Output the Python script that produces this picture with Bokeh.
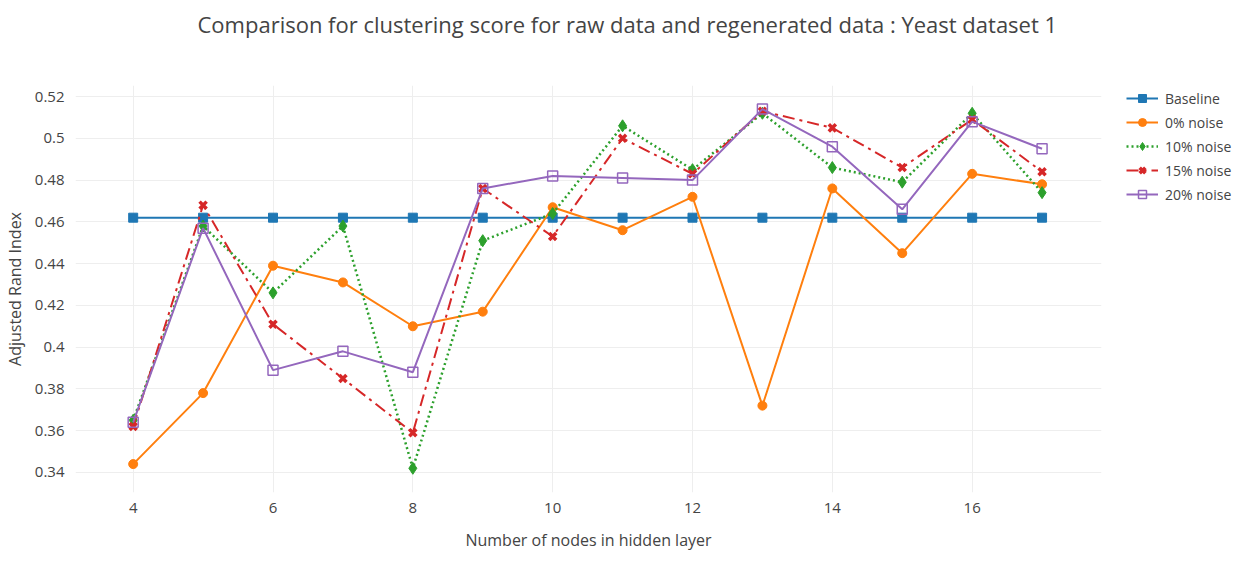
from bokeh.plotting import figure
from bokeh.models import Range1d, FixedTicker, Legend, LegendItem, Title
from bokeh.embed import file_html
from bokeh.resources import INLINE

x_nodes = [4, 5, 6, 7, 8, 9, 10, 11, 12, 13, 14, 15, 16, 17]
baseline = [0.462, 0.462, 0.462, 0.462, 0.462, 0.462, 0.462, 0.462, 0.462, 0.462, 0.462, 0.462, 0.462, 0.462]
noise0 = [0.344, 0.378, 0.439, 0.431, 0.410, 0.417, 0.467, 0.456, 0.472, 0.372, 0.476, 0.445, 0.483, 0.478]
noise10 = [0.365, 0.458, 0.426, 0.458, 0.342, 0.451, 0.464, 0.506, 0.485, 0.512, 0.486, 0.479, 0.512, 0.474]
noise15 = [0.362, 0.468, 0.411, 0.385, 0.359, 0.476, 0.453, 0.500, 0.483, 0.513, 0.505, 0.486, 0.509, 0.484]
noise20 = [0.364, 0.457, 0.389, 0.398, 0.388, 0.476, 0.482, 0.481, 0.480, 0.514, 0.496, 0.466, 0.508, 0.495]
series_names = ["Baseline", "0% noise", "10% noise", "15% noise", "20% noise"]
x_ticks = [4, 6, 8, 10, 12, 14, 16]
y_ticks = [0.34, 0.36, 0.38, 0.40, 0.42, 0.44, 0.46, 0.48, 0.50, 0.52]
y_tick_labels = ["0.34", "0.36", "0.38", "0.4", "0.42", "0.44", "0.46", "0.48", "0.5", "0.52"]

FONT = "Open Sans"
TXT = "#444444"

p = figure(frame_width=1026, frame_height=407, output_backend="svg", toolbar_location=None,
           x_range=Range1d(3.175, 17.85), y_range=Range1d(0.3304, 0.5253),
           min_border_left=67, min_border_top=85, min_border_right=120, min_border_bottom=53)
p.outline_line_color = None
p.background_fill_color = "white"

# spacer between the frame and the title (closest to the frame)
spacer = Title(text=" ", text_font_size="1px", standoff=44)
p.add_layout(spacer, "above")

title = Title(text="Comparison for clustering score for raw data and regenerated data : Yeast dataset 1",
              align="left", offset=122, text_font=FONT, text_font_size="22px",
              text_font_style="normal", text_color=TXT, standoff=0)
p.title = title

for ax in (p.xaxis[0], p.yaxis[0]):
    ax.axis_line_color = None
    ax.major_tick_line_color = None
    ax.minor_tick_line_color = None
    ax.major_label_text_font = FONT
    ax.major_label_text_font_size = "15px"
    ax.major_label_text_color = TXT
    ax.axis_label_text_font = FONT
    ax.axis_label_text_font_size = "16px"
    ax.axis_label_text_font_style = "normal"
    ax.axis_label_text_color = TXT

p.xaxis.ticker = FixedTicker(ticks=x_ticks)
p.yaxis.ticker = FixedTicker(ticks=y_ticks)
p.yaxis.major_label_overrides = {t: l for t, l in zip(y_ticks, y_tick_labels)}
p.xaxis.axis_label = "Number of nodes in hidden layer"
p.yaxis.axis_label = "Adjusted Rand Index"
p.xaxis.major_label_standoff = 4
p.xaxis.axis_label_standoff = 13
p.yaxis.major_label_standoff = 5
p.yaxis.axis_label_standoff = 6

p.xgrid.grid_line_color = "#eeeeee"
p.ygrid.grid_line_color = "#eeeeee"
p.xgrid.grid_line_width = 1
p.ygrid.grid_line_width = 1

c_blue, c_orange, c_green, c_red, c_purple = "#1f77b4", "#ff7f0e", "#2ca02c", "#d62728", "#9467bd"

items = []
l0 = p.line(x_nodes, baseline, line_color=c_blue, line_width=2)
m0 = p.scatter(x_nodes, baseline, marker="square", size=9, fill_color=c_blue, line_color=c_blue)
items.append(LegendItem(label=series_names[0], renderers=[l0, m0]))

l1 = p.line(x_nodes, noise0, line_color=c_orange, line_width=2)
m1 = p.scatter(x_nodes, noise0, marker="circle", size=9, fill_color=c_orange, line_color=c_orange)
items.append(LegendItem(label=series_names[1], renderers=[l1, m1]))

l2 = p.line(x_nodes, noise10, line_color=c_green, line_width=2.5, line_dash="2 3")
m2 = p.scatter(x_nodes, noise10, marker="diamond", size=12, fill_color=c_green, line_color=c_green)
items.append(LegendItem(label=series_names[2], renderers=[l2, m2]))

l3 = p.line(x_nodes, noise15, line_color=c_red, line_width=2, line_dash="12 5 3 5")
m3 = p.scatter(x_nodes, noise15, marker="x", size=10, line_color=c_red, line_width=3.5)
items.append(LegendItem(label=series_names[3], renderers=[l3, m3]))

l4 = p.line(x_nodes, noise20, line_color=c_purple, line_width=2)
m4 = p.scatter(x_nodes, noise20, marker="square", size=10, fill_color="white", fill_alpha=0.0,
               line_color=c_purple, line_width=1.5)
items.append(LegendItem(label=series_names[4], renderers=[l4, m4]))

legend = Legend(items=items, location=(25, 288), border_line_color=None,
                background_fill_alpha=0.0, label_text_font=FONT, label_text_font_size="14px",
                label_text_color=TXT, glyph_width=32, glyph_height=20, label_height=20,
                label_standoff=7, spacing=4, padding=0, margin=0)
p.add_layout(legend, "right")

open("out.html", "w").write(file_html(p, INLINE))
